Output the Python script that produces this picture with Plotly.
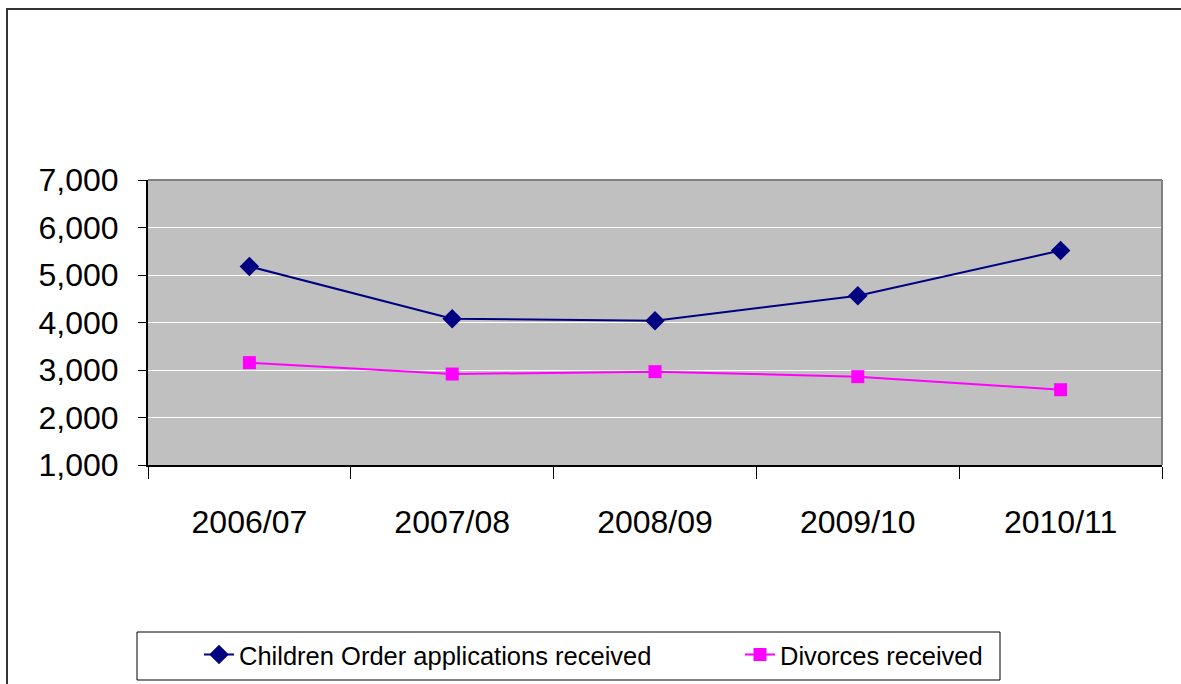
import plotly.graph_objects as go

categories = ["2006/07", "2007/08", "2008/09", "2009/10", "2010/11"]
children_order = [5180, 4080, 4035, 4565, 5515]
divorces = [3155, 2915, 2965, 2860, 2585]
y_ticks = [1000, 2000, 3000, 4000, 5000, 6000, 7000]

W, H = 1181, 684
L, R, T, B = 148, 1162, 180, 465

fig = go.Figure()
fig.add_trace(go.Scatter(
    x=categories, y=children_order, mode="lines+markers",
    name="Children Order applications received",
    line=dict(color="#000080", width=2),
    marker=dict(symbol="diamond", size=15, color="#000080"),
    legend="legend",
))
fig.add_trace(go.Scatter(
    x=categories, y=divorces, mode="lines+markers",
    name="Divorces received",
    line=dict(color="#FF00FF", width=2),
    marker=dict(symbol="square", size=13, color="#FF00FF"),
    legend="legend2",
))

def px(x):
    return (x - L) / (R - L)

def py(y):
    return (B - y) / (B - T)

shapes = [
    # outer chart border
    dict(type="rect", xref="paper", yref="paper",
         x0=px(7), x1=px(1190), y0=py(695), y1=py(9),
         line=dict(color="#333333", width=2), layer="above"),
    # top and right plot border (gray)
    dict(type="line", xref="paper", yref="paper", x0=0, x1=1, y0=1, y1=1,
         line=dict(color="#808080", width=2), layer="above"),
    dict(type="line", xref="paper", yref="paper", x0=1, x1=1, y0=0, y1=1,
         line=dict(color="#808080", width=2), layer="above"),
    # legend box
    dict(type="rect", xref="paper", yref="paper",
         x0=px(137), x1=px(1000), y0=py(680), y1=py(632),
         line=dict(color="black", width=1), fillcolor="white", layer="below"),
]

legend_font = dict(size=25.5, family="Liberation Sans, Arial, sans-serif", color="black")
legend_common = dict(
    orientation="h", xanchor="left", yanchor="middle", y=py(655),
    bgcolor="rgba(0,0,0,0)", borderwidth=0, font=legend_font,
)

fig.update_layout(
    width=W, height=H,
    margin=dict(l=L, r=W - R, t=T, b=H - B, pad=0, autoexpand=False),
    paper_bgcolor="white",
    plot_bgcolor="#C0C0C0",
    font=dict(family="Liberation Sans, Arial, sans-serif", color="black"),
    shapes=shapes,
    showlegend=True,
    legend=dict(x=px(199), **legend_common),
    legend2=dict(x=px(740), **legend_common),
    xaxis=dict(
        range=[-0.5, 4.5],
        showgrid=False,
        showline=True, linecolor="black", linewidth=2,
        ticks="outside", ticklen=12, tickcolor="black", tickwidth=1,
        tickson="boundaries",
        tickfont=dict(size=32),
        ticklabelstandoff=28,
    ),
    yaxis=dict(
        range=[1000, 7000],
        tickvals=y_ticks,
        tickformat=",",
        showgrid=True, gridcolor="white", gridwidth=1,
        showline=True, linecolor="black", linewidth=2,
        ticks="outside", ticklen=8, tickcolor="black", tickwidth=1,
        tickfont=dict(size=32),
        ticklabelstandoff=13,
        zeroline=False,
    ),
)

fig.write_html("out.html")
